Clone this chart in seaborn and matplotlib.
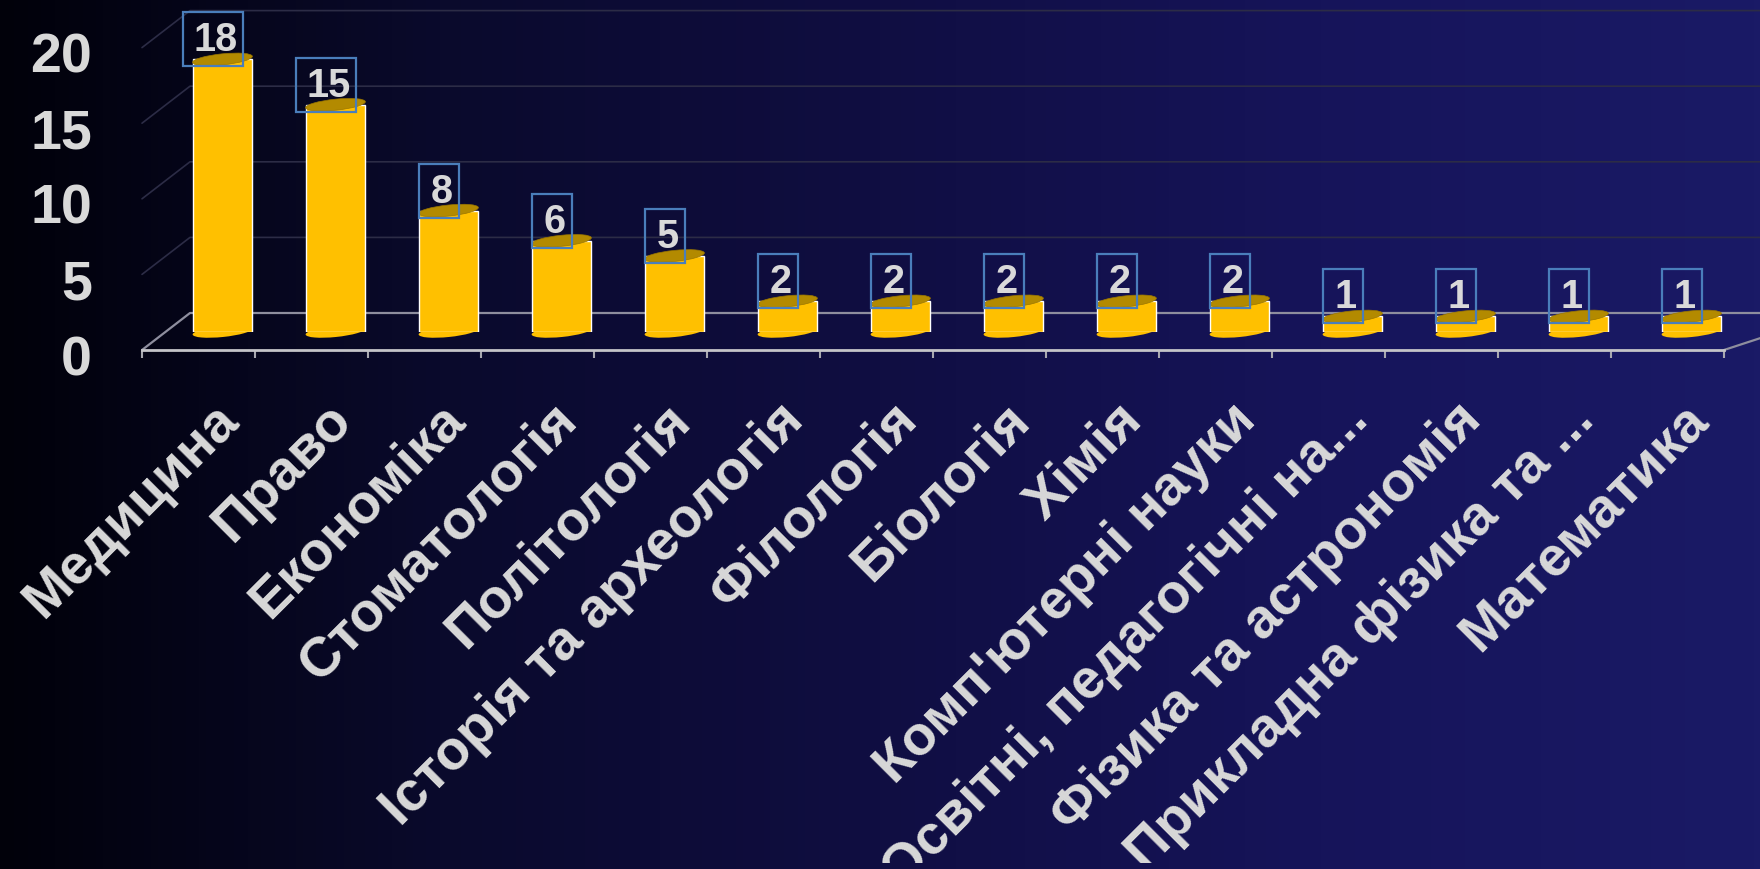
import numpy as np
import pandas as pd
import seaborn as sns
import matplotlib.pyplot as plt
from matplotlib.colors import LinearSegmentedColormap
from matplotlib.patches import Ellipse, Rectangle
from matplotlib.transforms import Affine2D, Bbox, ScaledTranslation

categories = ['Медицина', 'Право', 'Економіка', 'Стоматологія', 'Політологія',
              'Історія та археологія', 'Філологія', 'Біологія', 'Хімія',
              "Комп'ютерні науки", 'Освітні, педагогічні на...',
              'Фізика та астрономія', 'Прикладна фізика та ...', 'Математика']
values = [18, 15, 8, 6, 5, 2, 2, 2, 2, 2, 1, 1, 1, 1]
y_ticks = [0, 5, 10, 15, 20]

W, H = 1760, 869
UNIT = 15.12  # px per value
TEXT = '#D9D9D9'

sns.set_theme(style='white')
plt.rcParams['font.family'] = ['Liberation Sans', 'DejaVu Sans']
plt.rcParams['font.weight'] = 'bold'

fig = plt.figure(figsize=(W / 100, H / 100), dpi=100)


def px_axes(left, right, y_bottom, y_top):
    a = fig.add_axes([left / W, 1 - y_bottom / H, (right - left) / W, (y_bottom - y_top) / H])
    a.patch.set_alpha(0)
    return a


def px_shift(dx, dy):
    return ScaledTranslation(dx / 72, dy / 72, fig.dpi_scale_trans + Affine2D().scale(72 / 100)) if False else Affine2D().translate(dx, dy)


# background
bg = fig.add_axes([0, 0, 1, 1], zorder=0)
cmap = LinearSegmentedColormap.from_list('bg', ['#01010A', '#0A0A2C', '#100E42', '#16145A', '#1A1A66'])
bg.imshow(np.linspace(0, 1, 512)[None, :], cmap=cmap, aspect='auto')
bg.axis('off')

# front plane of the chart box: ticks, y labels, wall and back grid
front = px_axes(142, 1724, 350, 350 - 20 * UNIT)
front.set_zorder(1)
front.set_xlim(0, 14)
front.set_ylim(0, 20)
depth_x, depth_y = 48 / 113, 37 / UNIT
for v in y_ticks:
    col = '#8E8E9E' if v == 0 else '#2C2C46'
    lw = 1.6 if v == 0 else 1.2
    front.plot([0, depth_x, 15], [v, v + depth_y, v + depth_y], color=col, lw=lw, clip_on=False)
front.plot([14, 15], [0, depth_y], color='#8E8E9E', lw=1.6, clip_on=False)
for s in front.spines.values():
    s.set_visible(False)
front.spines['bottom'].set_visible(True)
front.spines['bottom'].set_color('#C4C4C8')
front.spines['bottom'].set_linewidth(2)
front.set_xticks(range(15))
front.set_xticklabels([])
front.tick_params(axis='x', length=6, width=1.5, color='#A8A8B0', bottom=True)
front.set_yticks(y_ticks)
front.tick_params(axis='y', length=0, pad=36, labelsize=40, labelcolor=TEXT)
for lab in front.get_yticklabels():
    lab.set_fontweight('bold')
    lab.set_transform(lab.get_transform() + px_shift(0, -5))

# bars
df = pd.DataFrame({'category': categories, 'value': values})
ax = px_axes(166, 1748, 331.5, 331.5 - 20 * UNIT)
ax.set_zorder(2)
sns.barplot(data=df, x='category', y='value', color='#FFC000', saturation=1, width=59 / 113, ax=ax, zorder=2)
ax.set_xlim(-0.5, 13.5)
ax.set_ylim(0, 20)
ax.set(xlabel=None, ylabel=None, yticks=[])
sns.despine(ax=ax, left=True, bottom=True)

for i, v in enumerate(values):
    x0, y0 = ax.transData.transform((i, 0))
    x1, y1 = ax.transData.transform((i, v))
    ax.add_patch(Ellipse((0, 0), 60, 11, angle=5.8, facecolor='#FFC000', edgecolor='none',
                         transform=Affine2D().translate(x0, y0), clip_on=False, zorder=1.9))
    ax.add_patch(Ellipse((0, 0), 60, 11, angle=5.8, facecolor='#B38A00', edgecolor='#9A7600', lw=0.5,
                         transform=Affine2D().translate(x1, y1), clip_on=False, zorder=3))
    label = str(v)
    bw = 60 if len(label) > 1 else 40
    ax.add_patch(Rectangle((-bw / 2, -27), bw, 54, facecolor='none', edgecolor='#4A7EBB', lw=1.6,
                           transform=Affine2D().translate(x1 - 9.5, y1 + 20), clip_on=False, zorder=4))
    ax.text(x1 - 7, y1 + 19, label, transform=Affine2D(), ha='center', va='center', fontsize=28.5,
            fontweight='bold', color=TEXT, zorder=5, clip_on=False)

# category labels, cut at the bottom like the reference
ax.tick_params(axis='x', length=0, pad=58, labelsize=40, labelcolor=TEXT)
clip = Bbox.from_extents(0, H - 863, W, H)
for lab in ax.get_xticklabels():
    lab.set_rotation(45)
    lab.set_ha('right')
    lab.set_va('center')
    lab.set_rotation_mode('anchor')
    lab.set_fontweight('bold')
    lab.set_transform(lab.get_transform() + px_shift(8, 0))
    lab.set_clip_on(True)
    lab.set_clip_box(clip)

fig.savefig('out.png', dpi=100)
